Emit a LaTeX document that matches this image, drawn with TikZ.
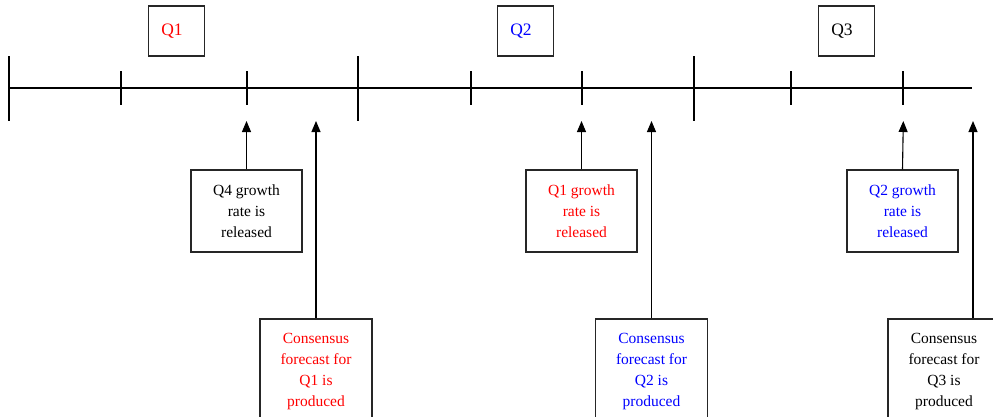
\documentclass[tikz,border=0pt]{standalone}
\usepackage{fontspec}
\setmainfont{Liberation Serif}
\usetikzlibrary{arrows.meta}
\definecolor{qred}{RGB}{255,0,0}
\definecolor{qblue}{RGB}{0,0,255}
\begin{document}
\begin{tikzpicture}[x=1pt,y=-1pt,line width=1.1pt,
  box/.style={draw=black!85, line width=1.1pt, inner sep=0pt, align=center,
    font=\fontsize{15.5}{21}\selectfont},
  qbox/.style={box, minimum width=56pt, minimum height=50pt, font=\fontsize{17.5}{21}\selectfont},
  evbox/.style={box, minimum width=111pt, minimum height=82pt},
  fcbox/.style={box, minimum width=112pt, minimum height=105pt},
  arr/.style={-{Triangle[width=9pt,length=11pt]}, line width=1.1pt}]
\useasboundingbox (0,0) rectangle (993,416);
% axis
\draw (8,88) -- (972,88);
\foreach \x in {9,358,694} \draw (\x,56) -- (\x,121);
\foreach \x in {121,247,471,582,791,903} \draw (\x,71) -- (\x,105);
% quarter labels
\node[qbox, text=qred]  (q1) at (176.5,31) {Q1\hspace*{9pt}};
\node[qbox, text=qblue] (q2) at (525.5,31) {Q2\hspace*{9pt}};
\node[qbox]             (q3) at (846.5,31) {Q3\hspace*{9pt}};
% release boxes
\node[evbox]             (e1) at (246.5,211) {Q4 growth\\rate is\\released};
\node[evbox, text=qred]  (e2) at (581.5,211) {Q1 growth\\rate is\\released};
\node[evbox, text=qblue] (e3) at (902.5,211) {Q2 growth\\rate is\\released};
% forecast boxes
\node[fcbox, text=qred]  (f1) at (316,371.5) {Consensus\\forecast for\\Q1 is\\produced};
\node[fcbox, text=qblue] (f2) at (651.5,371.5) {Consensus\\forecast for\\Q2 is\\produced};
\node[fcbox]             (f3) at (944,371.5) {Consensus\\forecast for\\Q3 is\\produced};
% arrow tips
\coordinate (te1) at (246.5,121);
\coordinate (te2) at (581.5,121);
\coordinate (te3) at (903.3,121);
\coordinate (tf1) at (316,121);
\coordinate (tf2) at (651.5,121);
\coordinate (tf3) at (973,121);
\draw[arr] (e1.north) -- (te1);
\draw[arr] (e2.north) -- (te2);
\draw[arr] (e3.north) -- (te3);
\draw[arr] (f1.north) -- (tf1);
\draw[arr] (f2.north) -- (tf2);
\draw[arr] (f3.north -| tf3) -- (tf3);
\end{tikzpicture}
\end{document}
